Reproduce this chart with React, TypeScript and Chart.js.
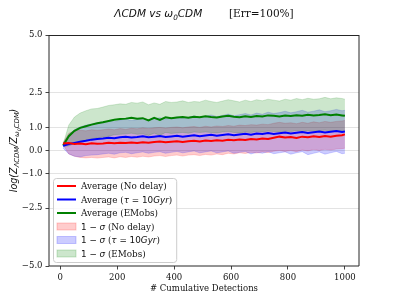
import React, { useEffect, useRef } from 'react';
import { Chart, registerables } from 'chart.js';

Chart.register(...registerables);

// ---------- data ----------
const detections = [
  10, 30, 50, 70, 90, 110, 130, 150, 170, 190,
  210, 230, 250, 270, 290, 310, 330, 350, 370, 390,
  410, 430, 450, 470, 490, 510, 530, 550, 570, 590,
  610, 630, 650, 670, 690, 710, 730, 750, 770, 790,
  810, 830, 850, 870, 890, 910, 930, 950, 970, 990, 1000,
];

const redMean = [
  0.30, 0.32, 0.28, 0.30, 0.27, 0.31, 0.29, 0.30, 0.33, 0.31,
  0.34, 0.32, 0.35, 0.33, 0.36, 0.34, 0.37, 0.39, 0.36, 0.38,
  0.40, 0.37, 0.40, 0.42, 0.39, 0.43, 0.41, 0.44, 0.42, 0.46,
  0.44, 0.48, 0.46, 0.50, 0.48, 0.52, 0.50, 0.55, 0.60, 0.56,
  0.58, 0.54, 0.60, 0.57, 0.62, 0.58, 0.63, 0.60, 0.64, 0.66, 0.70,
];
const redUpper = [
  0.35, 0.75, 0.85, 0.88, 0.85, 0.90, 0.88, 0.90, 0.93, 0.90,
  0.95, 0.92, 0.96, 0.94, 0.98, 0.95, 0.98, 1.00, 0.97, 1.00,
  1.02, 0.98, 1.02, 1.04, 1.00, 1.05, 1.02, 1.06, 1.04, 1.08,
  1.05, 1.10, 1.08, 1.12, 1.10, 1.14, 1.12, 1.18, 1.22, 1.18,
  1.20, 1.16, 1.22, 1.18, 1.24, 1.20, 1.26, 1.22, 1.26, 1.28, 1.30,
];
const redLower = [
  0.25, -0.15, -0.25, -0.30, -0.32, -0.30, -0.33, -0.30, -0.28, -0.32,
  -0.27, -0.30, -0.26, -0.29, -0.25, -0.28, -0.24, -0.22, -0.26, -0.22,
  -0.20, -0.24, -0.20, -0.18, -0.22, -0.17, -0.20, -0.15, -0.18, -0.12,
  -0.15, -0.10, -0.13, -0.08, -0.11, -0.06, -0.09, -0.03, 0.00, -0.04,
  0.00, -0.05, 0.02, -0.02, 0.04, 0.00, 0.05, 0.02, 0.06, 0.08, 0.10,
];

const blueMean = [
  0.20, 0.28, 0.33, 0.38, 0.42, 0.47, 0.50, 0.52, 0.55, 0.53,
  0.57, 0.60, 0.56, 0.58, 0.62, 0.57, 0.60, 0.63, 0.58, 0.61,
  0.64, 0.60, 0.63, 0.66, 0.62, 0.65, 0.68, 0.64, 0.67, 0.70,
  0.66, 0.69, 0.72, 0.68, 0.74, 0.71, 0.76, 0.72, 0.75, 0.78,
  0.74, 0.77, 0.80, 0.76, 0.79, 0.82, 0.78, 0.81, 0.84, 0.80, 0.82,
];
const blueUpper = [
  0.30, 0.70, 0.90, 1.02, 1.10, 1.15, 1.20, 1.24, 1.28, 1.25,
  1.32, 1.36, 1.30, 1.34, 1.40, 1.33, 1.38, 1.42, 1.36, 1.40,
  1.45, 1.40, 1.44, 1.50, 1.44, 1.48, 1.54, 1.47, 1.52, 1.58,
  1.50, 1.55, 1.60, 1.54, 1.62, 1.57, 1.66, 1.60, 1.64, 1.70,
  1.63, 1.68, 1.74, 1.66, 1.70, 1.76, 1.68, 1.72, 1.78, 1.72, 1.74,
];
const blueLower = [
  0.10, -0.15, -0.25, -0.28, -0.22, -0.20, -0.18, -0.15, -0.12, -0.16,
  -0.10, -0.08, -0.14, -0.10, -0.06, -0.12, -0.08, -0.05, -0.12, -0.08,
  -0.04, -0.10, -0.06, -0.02, -0.10, -0.06, -0.02, -0.10, -0.06, -0.02,
  -0.12, -0.08, -0.04, -0.15, -0.08, -0.12, -0.05, -0.14, -0.10, -0.06,
  -0.16, -0.10, -0.05, -0.18, -0.12, -0.06, -0.16, -0.10, -0.04, -0.14, -0.12,
];

const greenMean = [
  0.22, 0.62, 0.85, 0.98, 1.05, 1.12, 1.18, 1.22, 1.28, 1.33,
  1.36, 1.38, 1.42, 1.37, 1.40, 1.30, 1.41, 1.32, 1.44, 1.40,
  1.43, 1.45, 1.42, 1.46, 1.44, 1.48, 1.45, 1.43, 1.47, 1.50,
  1.46, 1.44, 1.48, 1.45, 1.49, 1.47, 1.52, 1.50, 1.47, 1.51,
  1.49, 1.53, 1.50, 1.55, 1.52, 1.54, 1.57, 1.53, 1.56, 1.52, 1.50,
];
const greenUpper = [
  0.27, 1.10, 1.45, 1.62, 1.72, 1.80, 1.82, 1.88, 1.95, 1.98,
  2.02, 2.00, 2.08, 2.05, 2.10, 1.98, 2.06, 2.00, 2.12, 2.08,
  2.10, 2.15, 2.08, 2.12, 2.10, 2.18, 2.12, 2.08, 2.14, 2.20,
  2.15, 2.10, 2.18, 2.12, 2.20, 2.15, 2.22, 2.18, 2.14, 2.22,
  2.18, 2.25, 2.20, 2.26, 2.22, 2.24, 2.30, 2.24, 2.28, 2.25, 2.22,
];
const greenLower = [
  0.17, 0.20, 0.30, 0.40, 0.45, 0.50, 0.55, 0.58, 0.62, 0.68,
  0.70, 0.72, 0.75, 0.70, 0.72, 0.65, 0.75, 0.66, 0.78, 0.74,
  0.76, 0.78, 0.75, 0.80, 0.78, 0.80, 0.78, 0.76, 0.80, 0.82,
  0.78, 0.76, 0.80, 0.78, 0.82, 0.80, 0.84, 0.82, 0.80, 0.84,
  0.82, 0.86, 0.82, 0.86, 0.84, 0.86, 0.88, 0.84, 0.86, 0.84, 0.82,
];

const xTicks = [0, 200, 400, 600, 800, 1000];
const yTicks = [5, 2.5, 1, 0, -1, -2.5, -5];

// ---------- styling ----------
const SERIF = '"DejaVu Serif", serif';
const SANS = '"DejaVu Sans", sans-serif';
const FS = 8.5;
const LFS = 8.8;
const RED = '255,0,0';
const BLUE = '0,0,255';
const GREEN = '0,128,0';

type Seg = { t: string; f: string; dy?: number };

function segWidth(ctx: CanvasRenderingContext2D, segs: Seg[]) {
  let w = 0;
  for (const s of segs) {
    ctx.font = s.f;
    w += ctx.measureText(s.t).width;
  }
  return w;
}
function drawSegs(ctx: CanvasRenderingContext2D, segs: Seg[], x: number, y: number) {
  let cx = x;
  for (const s of segs) {
    ctx.font = s.f;
    ctx.fillText(s.t, cx, y + (s.dy || 0));
    cx += ctx.measureText(s.t).width;
  }
  return cx;
}

const serif = (px: number) => `${px}px ${SERIF}`;
const sansI = (px: number) => `italic ${px}px ${SANS}`;
const sans = (px: number) => `${px}px ${SANS}`;

const tauSegs = (): Seg[] => [
  { t: 'τ', f: sansI(LFS) },
  { t: ' = ', f: sans(LFS) },
  { t: '10', f: sans(LFS) },
  { t: 'Gyr', f: sansI(LFS) },
];
const sigmaSegs = (): Seg[] => [
  { t: '1', f: sans(LFS) },
  { t: ' − ', f: sans(LFS) },
  { t: 'σ', f: sansI(LFS) },
];

const legendItems: { kind: 'line' | 'patch'; rgb: string; segs: Seg[] }[] = [
  { kind: 'line', rgb: RED, segs: [{ t: 'Average (No delay)', f: serif(LFS) }] },
  { kind: 'line', rgb: BLUE, segs: [{ t: 'Average (', f: serif(LFS) }, ...tauSegs(), { t: ')', f: serif(LFS) }] },
  { kind: 'line', rgb: GREEN, segs: [{ t: 'Average (EMobs)', f: serif(LFS) }] },
  { kind: 'patch', rgb: RED, segs: [...sigmaSegs(), { t: ' (No delay)', f: serif(LFS) }] },
  { kind: 'patch', rgb: BLUE, segs: [...sigmaSegs(), { t: ' (', f: serif(LFS) }, ...tauSegs(), { t: ')', f: serif(LFS) }] },
  { kind: 'patch', rgb: GREEN, segs: [...sigmaSegs(), { t: ' (EMobs)', f: serif(LFS) }] },
];

const decorPlugin = {
  id: 'decor',
  afterDraw(chart: any) {
    const ctx: CanvasRenderingContext2D = chart.ctx;
    const a = chart.chartArea;
    ctx.save();
    // frame
    ctx.strokeStyle = '#262626';
    ctx.lineWidth = 1;
    ctx.beginPath();
    ctx.moveTo(a.left, a.top + 0.5);
    ctx.lineTo(a.right, a.top + 0.5);
    ctx.moveTo(a.left, a.top);
    ctx.lineTo(a.left, a.bottom);
    ctx.lineTo(a.right, a.bottom);
    ctx.lineTo(a.right, a.top);
    ctx.stroke();

    ctx.fillStyle = '#111';
    ctx.textBaseline = 'alphabetic';
    // title
    const TS = 10.5;
    const tSegs: Seg[] = [
      { t: 'ΛCDM vs ω', f: sansI(TS) },
      { t: '0', f: sansI(7.3), dy: 2.5 },
      { t: 'CDM', f: sansI(TS) },
      { t: '        ', f: serif(TS) },
      { t: '[Err=100%]', f: serif(TS) },
    ];
    const tw = segWidth(ctx, tSegs);
    const cx = (a.left + a.right) / 2;
    drawSegs(ctx, tSegs, cx - tw / 2, 17);

    // x label
    ctx.font = serif(FS);
    ctx.textAlign = 'center';
    ctx.fillText('# Cumulative Detections', cx, 291);
    ctx.textAlign = 'left';

    // y label
    const YS = 9.6;
    const ySegs: Seg[] = [
      { t: 'log(Z', f: sansI(YS) },
      { t: 'ΛCDM', f: sansI(6.8), dy: 2 },
      { t: '/Z', f: sansI(YS) },
      { t: 'ω', f: sansI(6.8), dy: 2 },
      { t: '0', f: sansI(4.8), dy: 3.5 },
      { t: 'CDM', f: sansI(6.8), dy: 2 },
      { t: ')', f: sansI(YS) },
    ];
    const yw = segWidth(ctx, ySegs);
    ctx.save();
    ctx.translate(17, (a.top + a.bottom) / 2);
    ctx.rotate(-Math.PI / 2);
    drawSegs(ctx, ySegs, -yw / 2, 0);
    ctx.restore();

    // legend
    const bx = a.left + 4;
    const by = 178;
    const pitch = 13.5;
    const textX = bx + 28;
    let maxW = 0;
    for (const it of legendItems) maxW = Math.max(maxW, segWidth(ctx, it.segs));
    const bw = textX + maxW + 4 - bx;
    const bh = pitch * 6 + 3;
    ctx.beginPath();
    ctx.roundRect(bx + 0.5, by + 0.5, bw, bh, 3);
    ctx.fillStyle = 'rgba(255,255,255,0.8)';
    ctx.fill();
    ctx.strokeStyle = '#cccccc';
    ctx.lineWidth = 1;
    ctx.stroke();
    legendItems.forEach((it, i) => {
      const yc = by + 8 + i * pitch;
      if (it.kind === 'line') {
        ctx.strokeStyle = `rgb(${it.rgb})`;
        ctx.lineWidth = 2;
        ctx.beginPath();
        ctx.moveTo(bx + 4, yc);
        ctx.lineTo(bx + 23, yc);
        ctx.stroke();
      } else {
        ctx.fillStyle = `rgba(${it.rgb},0.2)`;
        ctx.fillRect(bx + 4, yc - 3.5, 19, 7);
        ctx.strokeStyle = `rgba(${it.rgb},0.2)`;
        ctx.lineWidth = 1;
        ctx.strokeRect(bx + 4, yc - 3.5, 19, 7);
      }
      ctx.fillStyle = '#111';
      drawSegs(ctx, it.segs, textX, yc + 3);
    });
    ctx.restore();
  },
};

const pts = (arr: number[]) => detections.map((x, i) => ({ x, y: arr[i] }));

const band = (lo: number[], hi: number[], rgb: string) => [
  {
    data: pts(lo),
    borderColor: `rgba(${rgb},0.2)`,
    borderWidth: 0.8,
    backgroundColor: 'rgba(0,0,0,0)',
    fill: false,
    pointRadius: 0,
    order: 1,
  },
  {
    data: pts(hi),
    borderColor: `rgba(${rgb},0.2)`,
    borderWidth: 0.8,
    backgroundColor: `rgba(${rgb},0.2)`,
    fill: '-1',
    pointRadius: 0,
    order: 1,
  },
];

const line = (arr: number[], rgb: string) => ({
  data: pts(arr),
  borderColor: `rgb(${rgb})`,
  borderWidth: 2,
  backgroundColor: `rgb(${rgb})`,
  fill: false,
  pointRadius: 0,
  order: 0,
});

const fmtY = (v: number) => (v < 0 ? '−' + Math.abs(v).toFixed(1) : v.toFixed(1));

export default function App() {
  const ref = useRef<HTMLCanvasElement>(null);
  useEffect(() => {
    if (!ref.current) return;
    const chart = new Chart(ref.current, {
      type: 'line',
      data: {
        datasets: [
          ...band(greenLower, greenUpper, GREEN),
          ...band(blueLower, blueUpper, BLUE),
          ...band(redLower, redUpper, RED),
          line(redMean, RED),
          line(blueMean, BLUE),
          line(greenMean, GREEN),
        ] as any,
      },
      options: {
        animation: false,
        responsive: false,
        devicePixelRatio: 1,
        layout: { padding: { left: 0, top: 35, right: 40, bottom: 0 } },
        elements: { line: { tension: 0 } },
        plugins: { legend: { display: false }, tooltip: { enabled: false }, title: { display: false } },
        scales: {
          x: {
            type: 'linear',
            min: -39.5,
            max: 1049.5,
            afterBuildTicks: (s: any) => {
              s.ticks = xTicks.map((v) => ({ value: v }));
            },
            afterFit: (s: any) => {
              s.height = 33;
            },
            border: { display: false },
            grid: { drawOnChartArea: false, tickLength: 3.5, tickColor: '#444', lineWidth: 1 },
            ticks: {
              padding: 3,
              color: '#111',
              font: { family: SERIF, size: FS },
              maxRotation: 0,
              callback: (v: any) => String(v),
            },
          },
          y: {
            type: 'linear',
            min: -5,
            max: 5,
            afterBuildTicks: (s: any) => {
              s.ticks = yTicks.map((v) => ({ value: v }));
            },
            afterFit: (s: any) => {
              s.width = 49;
            },
            border: { display: false },
            grid: {
              color: (c: any) => (Math.abs(c.tick?.value) === 5 ? 'rgba(0,0,0,0)' : '#e3e3e3'),
              tickColor: '#444',
              tickLength: 3.5,
              lineWidth: 1,
            },
            ticks: {
              padding: 3,
              color: '#111',
              font: { family: SERIF, size: FS },
              callback: (v: any) => fmtY(Number(v)),
            },
          },
        },
      },
      plugins: [decorPlugin],
    });
    return () => chart.destroy();
  }, []);
  return (
    <div style={{ position: 'fixed', left: 0, top: 0, width: 399, height: 299, background: '#fff' }}>
      <canvas ref={ref} width={399} height={299} style={{ display: 'block' }} />
    </div>
  );
}
